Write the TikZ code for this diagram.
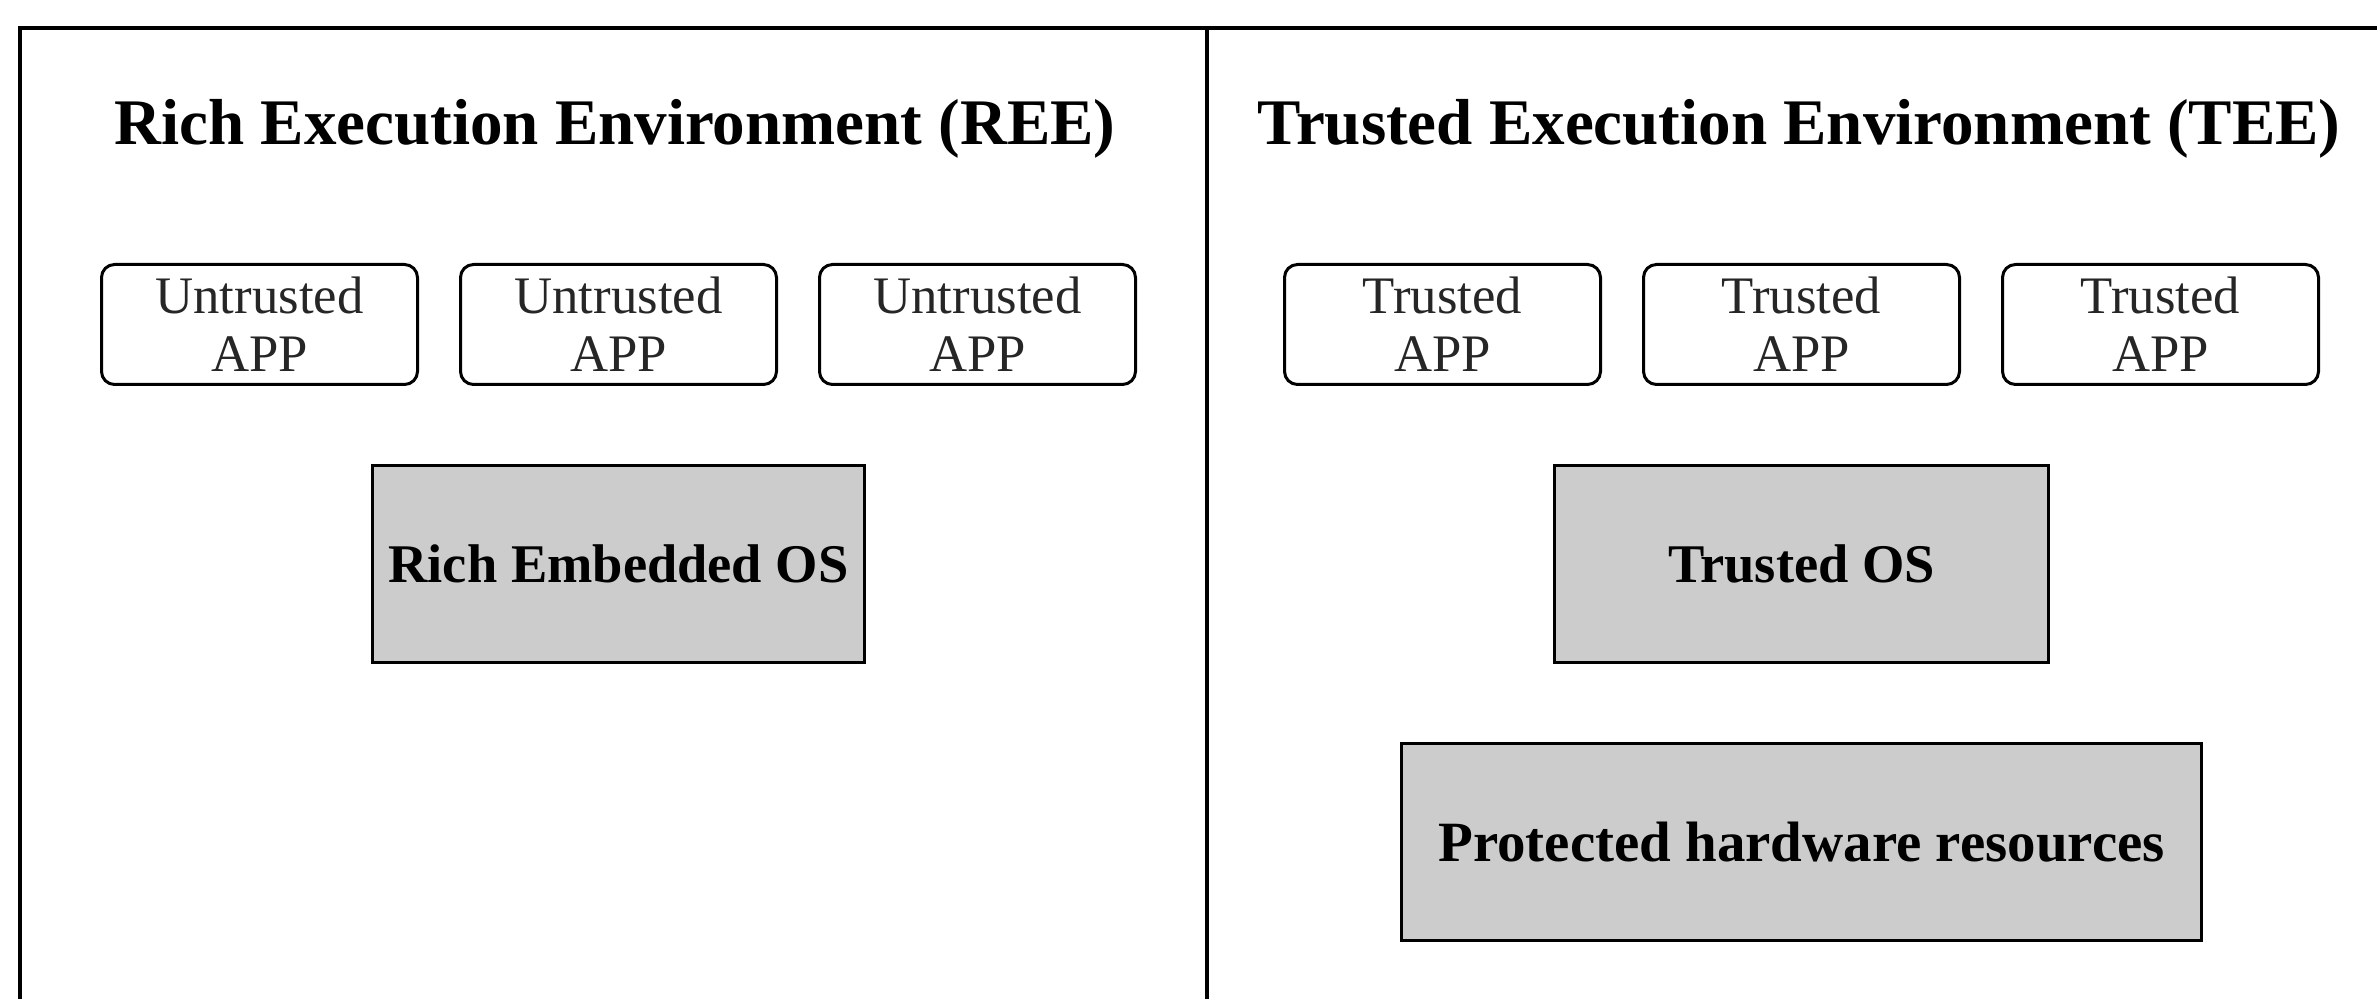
\documentclass[tikz,border=0pt]{standalone}
\usepackage{fontspec}
\setmainfont{Liberation Serif}
\usetikzlibrary{positioning}
\definecolor{osgrau}{HTML}{CCCCCC}

\begin{document}
\begin{tikzpicture}[
    x=0.1mm, y=-0.1mm,
    node distance=7.8mm and 4mm,
    app/.style={rectangle, rounded corners=1.3mm, draw, line width=0.3mm,
                minimum width=31.6mm, minimum height=12mm, inner sep=0pt,
                text=black!85, align=center, font=\fontsize{15}{16.5}\selectfont},
    osbox/.style={rectangle, draw, fill=osgrau, line width=0.3mm,
                  minimum height=19.7mm, inner sep=0pt, align=center,
                  font=\fontsize{15.5}{18}\selectfont\bfseries},
    titel/.style={anchor=base, font=\fontsize{18.5}{22}\selectfont\bfseries},
    rahmen/.style={line width=0.4mm}
  ]
  \useasboundingbox (0,0) rectangle (2377,999);
  % outer frame and divider between REE and TEE
  \draw[rahmen] (20,999) -- (20,28) -- (2377,28);
  \draw[rahmen] (1207,28) -- (1207,999);

  \node[titel] (ree) at (615,145)  {Rich Execution Environment (REE)};
  \node[titel] (tee) at (1799,145) {Trusted Execution Environment (TEE)};

  \node[app] (ua1) at (259.5,324.5) {Untrusted\\ APP};
  \node[app, right=of ua1] (ua2) {Untrusted\\ APP};
  \node[app, right=of ua2] (ua3) {Untrusted\\ APP};

  \node[app] (ta1) at (1442.5,324.5) {Trusted\\ APP};
  \node[app, right=of ta1] (ta2) {Trusted\\ APP};
  \node[app, right=of ta2] (ta3) {Trusted\\ APP};

  \node[osbox, minimum width=49.2mm, below=of ua2] (reos) {Rich Embedded OS};
  \node[osbox, minimum width=49.4mm, below=of ta2] (tos)  {Trusted OS};
  \node[osbox, minimum width=80mm, below=of tos, font=\fontsize{16.2}{18}\selectfont\bfseries] (hw)
    {Protected hardware resources};
\end{tikzpicture}
\end{document}
